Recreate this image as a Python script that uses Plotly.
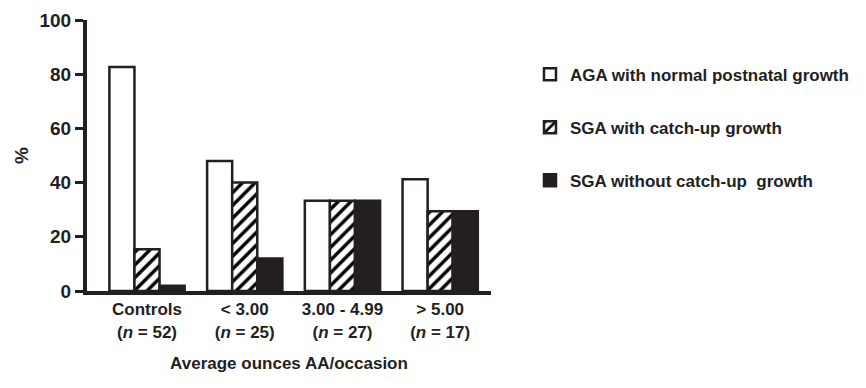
import plotly.graph_objects as go

categories = ["Controls<br>(<i>n</i> = 52)", "< 3.00<br>(<i>n</i> = 25)",
              "3.00 - 4.99<br>(<i>n</i> = 27)", "> 5.00<br>(<i>n</i> = 17)"]
aga_normal = [82.7, 48.0, 33.3, 41.2]
sga_catchup = [15.4, 40.0, 33.3, 29.4]
sga_no_catchup = [1.9, 12.0, 33.3, 29.4]
series_names = ["AGA with normal postnatal growth", "SGA with catch-up growth",
                "SGA without catch-up  growth"]
y_ticks = [0, 20, 40, 60, 80, 100]

INK = "#231f20"
FONT = "Liberation Sans, Arial, Helvetica, sans-serif"
xpos = list(range(len(categories)))

fig = go.Figure()
fig.add_trace(go.Bar(x=xpos, y=aga_normal, name=series_names[0], legendgroup="a",
                     marker=dict(color="white", line=dict(color=INK, width=2.5))))
fig.add_trace(go.Bar(x=xpos, y=sga_catchup, name=series_names[1], legendgroup="b",
                     marker=dict(color="white", line=dict(color=INK, width=2.5),
                                 pattern=dict(shape="/", fgcolor="#000000", fgopacity=1,
                                              bgcolor="white", size=9, solidity=0.38))))
fig.add_trace(go.Bar(x=xpos, y=sga_no_catchup, name=series_names[2], legendgroup="c",
                     marker=dict(color=INK, line=dict(color=INK, width=2.5))))

fig.update_layout(
    width=866, height=388,
    margin=dict(l=87, r=375, t=20, b=97),
    plot_bgcolor="white", paper_bgcolor="white",
    barmode="group", bargap=0.23, bargroupgap=0,
    font=dict(family=FONT, color=INK, size=17, weight="bold"),
    showlegend=True,
    legend=dict(x=1.0965, y=0.865, xanchor="left", yanchor="top",
                tracegroupgap=28, font=dict(size=17, family=FONT, color=INK, weight="bold"),
                bgcolor="rgba(0,0,0,0)"),
)
fig.update_xaxes(range=[-0.614, 3.52], tickmode="array", tickvals=xpos, ticktext=categories,
                 showline=True, linewidth=4, linecolor=INK, ticks="", showgrid=False,
                 zeroline=False, automargin=False,
                 tickfont=dict(size=17, family=FONT, weight="bold"),
                 title=dict(text="Average ounces AA/occasion", standoff=18,
                            font=dict(size=17, family=FONT, weight="bold")))
fig.update_yaxes(range=[0, 100], tickmode="array", tickvals=y_ticks,
                 showline=True, linewidth=4, linecolor=INK, ticks="outside", ticklen=8,
                 tickwidth=3, tickcolor=INK, showgrid=False, zeroline=False, automargin=False,
                 tickfont=dict(size=19, family=FONT, weight="bold"),
                 title=dict(text="%", standoff=7, font=dict(size=19, family=FONT, weight="bold")))

fig.write_html("out.html", config={"displayModeBar": False},
               post_script="document.body.style.margin='0';")
